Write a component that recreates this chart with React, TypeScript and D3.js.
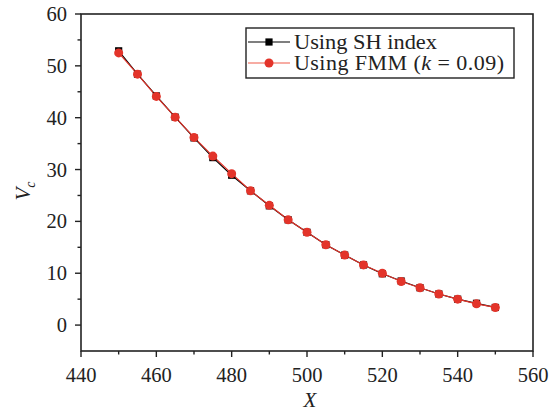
import React from "react";
import * as d3 from "d3";

const xValues = [450, 455, 460, 465, 470, 475, 480, 485, 490, 495, 500, 505, 510, 515, 520, 525, 530, 535, 540, 545, 550];
const shIndex = [52.9, 48.4, 44.2, 40.1, 36.1, 32.3, 28.9, 25.9, 23.0, 20.3, 17.9, 15.5, 13.5, 11.6, 9.9, 8.5, 7.2, 6.0, 5.0, 4.2, 3.4];
const fmm = [52.5, 48.4, 44.1, 40.1, 36.2, 32.6, 29.2, 25.9, 23.1, 20.3, 17.9, 15.5, 13.5, 11.6, 10.0, 8.4, 7.2, 6.0, 5.0, 4.1, 3.4];
const xTicks = [440, 460, 480, 500, 520, 540, 560];
const yTicks = [0, 10, 20, 30, 40, 50, 60];
const legendLabels = ["Using SH index", "Using FMM"];

const W = 553, H = 414;
const L = 81, R = 533, T = 14, B = 351;
const RED = "#e3342a";
const FONT = "'Liberation Serif', 'DejaVu Serif', serif";

export default function App() {
  const x = d3.scaleLinear().domain([440, 560]).range([L, R]);
  const y = d3.scaleLinear().domain([-5, 60]).range([B, T]);
  const line = d3.line<[number, number]>().x(d => x(d[0])).y(d => y(d[1]));
  const shPts = xValues.map((v, i) => [v, shIndex[i]] as [number, number]);
  const fmmPts = xValues.map((v, i) => [v, fmm[i]] as [number, number]);
  const xMinor = d3.range(450, 560, 20);
  const yMinor = d3.range(-5, 60, 10).filter(v => v > -5);
  const fs = 20.5;
  return (
    <svg width={W} height={H} style={{ position: "absolute", left: 0, top: 0, background: "#fff" }} fontFamily={FONT}>
      <rect x={0} y={0} width={W} height={H} fill="#fff" />
      {/* data */}
      <path d={line(shPts) || ""} fill="none" stroke="#000" strokeWidth={1.2} />
      <path d={line(fmmPts) || ""} fill="none" stroke={RED} strokeWidth={1.2} />
      {shPts.map((p, i) => (
        <rect key={"s" + i} x={x(p[0]) - 3.6} y={y(p[1]) - 3.6} width={7.2} height={7.2} fill="#000" />
      ))}
      {fmmPts.map((p, i) => (
        <circle key={"c" + i} cx={x(p[0])} cy={y(p[1])} r={4.5} fill={RED} />
      ))}
      {/* frame */}
      <rect x={L} y={T} width={R - L} height={B - T} fill="none" stroke="#222" strokeWidth={1.6} />
      {/* x ticks */}
      {xTicks.map(t => (
        <g key={"xt" + t}>
          <line x1={x(t)} x2={x(t)} y1={B} y2={B + 6} stroke="#222" strokeWidth={1.4} />
          <text x={x(t)} y={382} textAnchor="middle" fontSize={fs} fill="#222">{t}</text>
        </g>
      ))}
      {xMinor.map(t => (
        <line key={"xm" + t} x1={x(t)} x2={x(t)} y1={B} y2={B + 3.5} stroke="#222" strokeWidth={1.4} />
      ))}
      {/* y ticks */}
      {yTicks.map(t => (
        <g key={"yt" + t}>
          <line x1={L} x2={L - 6} y1={y(t)} y2={y(t)} stroke="#222" strokeWidth={1.4} />
          <text x={67} y={y(t) + 7} textAnchor="end" fontSize={fs} fill="#222">{t}</text>
        </g>
      ))}
      {yMinor.map(t => (
        <line key={"ym" + t} x1={L} x2={L - 3.5} y1={y(t)} y2={y(t)} stroke="#222" strokeWidth={1.4} />
      ))}
      {/* axis titles */}
      <text x={310} y={407} textAnchor="middle" fontSize={21} fontStyle="italic" fill="#222">X</text>
      <g transform="translate(30,191) rotate(-90)">
        <text x={0} y={0} textAnchor="middle" fontSize={21} fontStyle="italic" fill="#222">
          V<tspan fontSize={14} dy={5}>c</tspan>
        </text>
      </g>
      {/* legend */}
      <rect x={246} y={28} width={268} height={50} fill="#fff" stroke="#222" strokeWidth={1.4} />
      <line x1={248} x2={290} y1={42} y2={42} stroke="#000" strokeWidth={1.2} />
      <rect x={269 - 3.6} y={42 - 3.6} width={7.2} height={7.2} fill="#000" />
      <text x={294} y={49} fontSize={22} fill="#222" textLength={143} lengthAdjust="spacingAndGlyphs">{legendLabels[0]}</text>
      <line x1={248} x2={290} y1={63} y2={63} stroke="#f05a48" strokeWidth={1.2} />
      <circle cx={269} cy={63} r={4.5} fill={RED} />
      <text x={294} y={70} fontSize={22} fill="#222" textLength={210} lengthAdjust="spacing">
        {legendLabels[1] + " ("}<tspan fontStyle="italic">k</tspan>{" = 0.09)"}
      </text>
    </svg>
  );
}
